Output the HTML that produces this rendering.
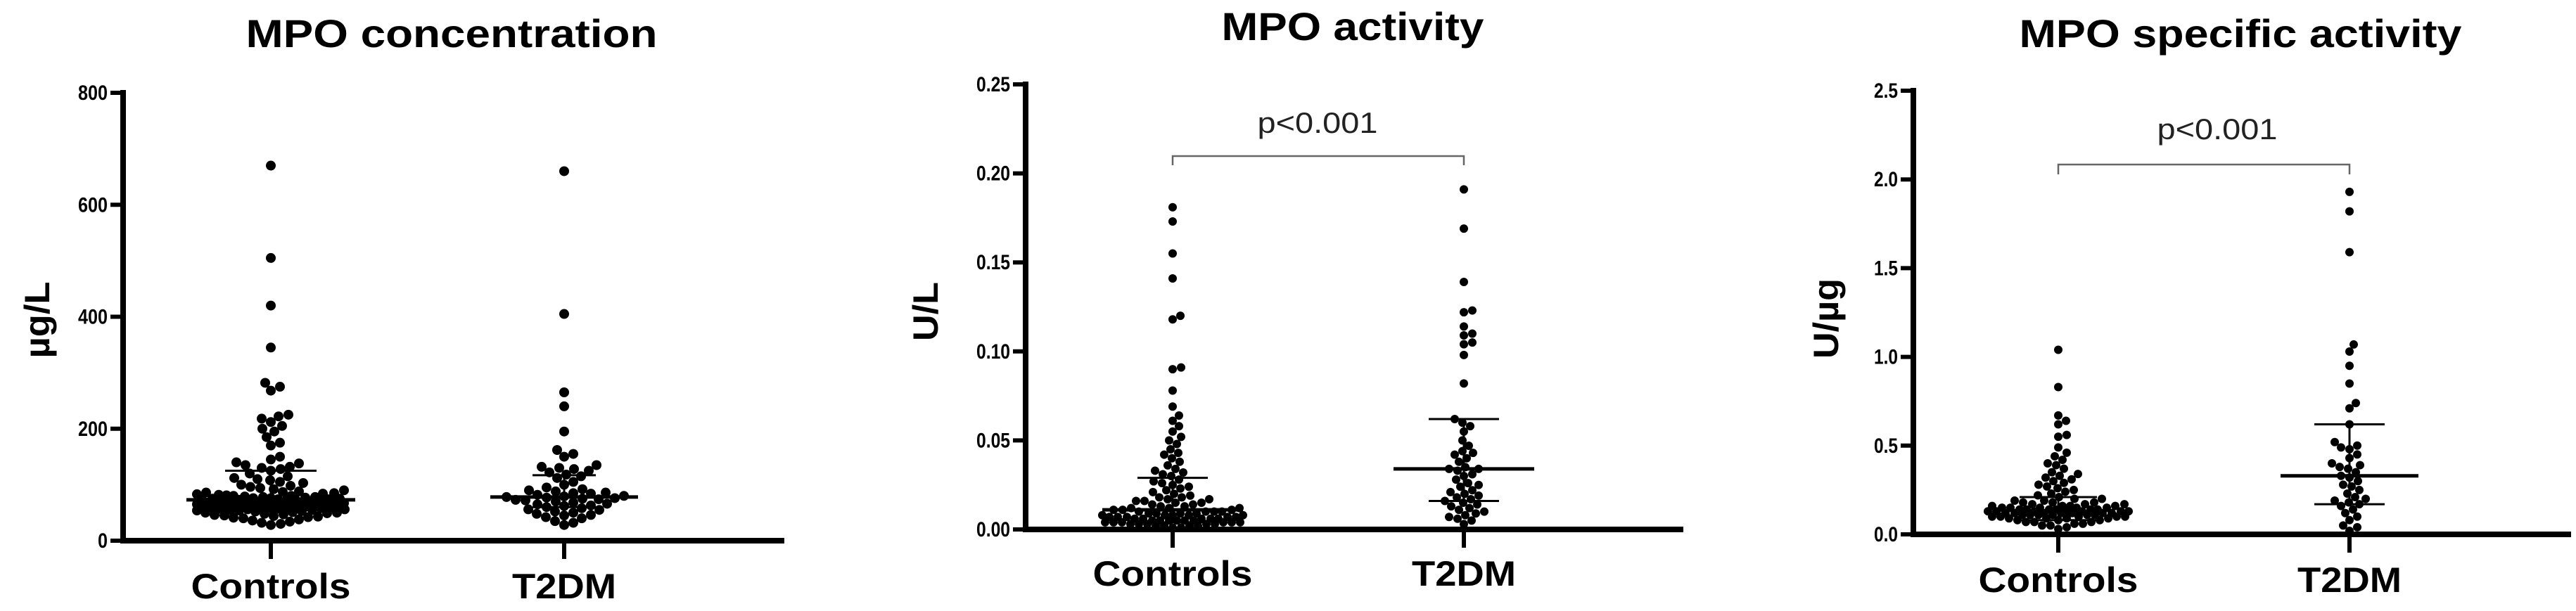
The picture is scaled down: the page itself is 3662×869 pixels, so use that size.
<!DOCTYPE html>
<html><head><meta charset="utf-8"><style>
html,body{margin:0;padding:0;background:#fff;}
svg{display:block;font-family:"Liberation Sans",sans-serif;}
</style></head><body>
<svg id="fig" width="3662" height="869" viewBox="0 0 3662 869" xmlns="http://www.w3.org/2000/svg"></svg>
<script>
const categories = ["Controls","T2DM"];
// Panel 1: MPO concentration (µg/L)
const concControls = [670,505,420,345,282,275,268,225,222,218,212,205,200,195,185,175,170,150,145,140,138,135,132,130,128,125,120,115,112,110,108,105,103,100,98,96,94,92,90,88,87,86,85,84,83,82,81,80,80,79,78,78,77,76,76,75,75,74,74,73,73,72,72,71,71,70,70,70,69,69,68,68,67,67,66,66,65,65,65,64,64,63,63,62,62,62,61,61,60,60,60,59,59,58,58,57,57,56,56,55,55,54,54,53,52,51,50,50,49,48,47,46,45,44,43,42,41,40,38,36,34,32,30,28];
const concT2DM = [660,405,265,240,195,162,155,150,135,132,130,128,125,122,118,115,112,105,100,95,92,90,88,86,85,84,82,80,79,78,77,76,75,74,73,72,70,68,66,65,63,62,60,58,56,55,52,50,48,46,45,42,40,35,32,28];
const concStats = [[73,60,125],[78,60,117]]; // median, q1, q3
const concTicks = ["0","200","400","600","800"];
// Panel 2: MPO activity (U/L)
const actControls = [0.181,0.173,0.155,0.141,0.12,0.118,0.091,0.09,0.078,0.069,0.064,0.061,0.058,0.055,0.052,0.05,0.048,0.045,0.043,0.042,0.04,0.038,0.036,0.034,0.033,0.032,0.031,0.03,0.028,0.027,0.026,0.025,0.024,0.023,0.022,0.021,0.02,0.019,0.018,0.018,0.017,0.017,0.016,0.016,0.015,0.015,0.014,0.014,0.013,0.013,0.012,0.012,0.012,0.011,0.011,0.011,0.010,0.010,0.010,0.010,0.009,0.009,0.009,0.009,0.008,0.008,0.008,0.008,0.008,0.007,0.007,0.007,0.007,0.007,0.006,0.006,0.006,0.006,0.006,0.005,0.005,0.005,0.005,0.005,0.005,0.004,0.004,0.004,0.004,0.004,0.004,0.003,0.003,0.003,0.003,0.003,0.002,0.002,0.002,0.002,0.001,0.001];
const actT2DM = [0.191,0.169,0.139,0.123,0.122,0.114,0.11,0.109,0.105,0.104,0.098,0.082,0.062,0.06,0.058,0.055,0.05,0.047,0.044,0.043,0.042,0.04,0.038,0.035,0.034,0.034,0.033,0.031,0.03,0.028,0.026,0.025,0.024,0.022,0.021,0.02,0.019,0.018,0.017,0.016,0.015,0.014,0.013,0.012,0.011,0.01,0.009,0.008,0.007,0.006,0.005,0.003];
const actStats = [[0.011,0.004,0.029],[0.034,0.016,0.062]];
const actTicks = ["0.00","0.05","0.10","0.15","0.20","0.25"];
// Panel 3: MPO specific activity (U/µg)
const spControls = [1.04,0.83,0.67,0.64,0.62,0.56,0.55,0.49,0.46,0.44,0.42,0.4,0.39,0.37,0.35,0.34,0.33,0.32,0.31,0.3,0.29,0.28,0.27,0.26,0.25,0.24,0.23,0.22,0.21,0.2,0.2,0.19,0.19,0.18,0.18,0.18,0.17,0.17,0.17,0.16,0.16,0.16,0.16,0.15,0.15,0.15,0.15,0.15,0.14,0.14,0.14,0.14,0.14,0.14,0.13,0.13,0.13,0.13,0.13,0.13,0.13,0.12,0.12,0.12,0.12,0.12,0.12,0.12,0.11,0.11,0.11,0.11,0.11,0.11,0.1,0.1,0.1,0.1,0.1,0.09,0.09,0.09,0.09,0.08,0.08,0.08,0.07,0.07,0.07,0.06,0.06,0.05,0.05,0.04,0.03];
const spT2DM = [1.93,1.82,1.59,1.07,1.03,0.95,0.85,0.74,0.71,0.62,0.52,0.5,0.49,0.48,0.45,0.43,0.4,0.39,0.38,0.37,0.35,0.33,0.32,0.3,0.28,0.27,0.25,0.23,0.21,0.2,0.19,0.18,0.17,0.16,0.14,0.12,0.1,0.08,0.05,0.04,0.02];
const spStats = [[0.13,0.08,0.21],[0.33,0.17,0.62]];
const spTicks = ["0.0","0.5","1.0","1.5","2.0","2.5"];

const NS="http://www.w3.org/2000/svg";
const svg=document.getElementById('fig');
function mk(tag,attrs,parent){const e=document.createElementNS(NS,tag);for(const k in attrs)e.setAttribute(k,attrs[k]);(parent||svg).appendChild(e);return e;}

const panels=[
 {title:"MPO concentration",tW:585,tx:642,ty:67,ytitle:"µg/L",ytW:109,ytx:70,yty:455,
  ax:175,yTop:132,y0:769,xEnd:1115,cx:[385,802],max:800,ticks:concTicks,
  data:[concControls,concT2DM],stats:concStats,r:7,half:[105,95],p:null,medW:[120,105],qW:[65,45]},
 {title:"MPO activity",tW:373,tx:1923,ty:57,ytitle:"U/L",ytW:84,ytx:1333,yty:443,
  ax:1458,yTop:120,y0:753,xEnd:2393,cx:[1667,2081],max:0.25,ticks:actTicks,
  data:[actControls,actT2DM],stats:actStats,r:6,half:[100,85],p:{x:1873,y:189,by:222,bd:235},medW:[100,100],qW:[50,50]},
 {title:"MPO specific activity",tW:629,tx:3185,ty:67,ytitle:"U/µg",ytW:114,ytx:2613,yty:453,
  ax:2720,yTop:129,y0:760,xEnd:3655,cx:[2926,3340],max:2.5,ticks:spTicks,
  data:[spControls,spT2DM],stats:spStats,r:6,half:[100,80],p:{x:3152,y:198,by:234,bd:248},medW:[55,98],qW:[55,50]}
];

panels.forEach((P,pi)=>{
 const g=mk('g',{});
 
 
 const yS=v=>P.y0-(v/P.max)*(P.y0-P.yTop);
 const t=mk('text',{x:P.tx,y:P.ty,'text-anchor':'middle','font-size':56,'font-weight':'bold',textLength:P.tW,lengthAdjust:'spacingAndGlyphs'},g);
 t.textContent=P.title;
 
 
 const yt=mk('text',{x:0,y:0,'text-anchor':'middle','font-size':50,'font-weight':'bold',textLength:P.ytW,lengthAdjust:'spacingAndGlyphs',transform:`translate(${P.ytx},${P.yty}) rotate(-90)`},g);
 yt.textContent=P.ytitle;
 
 
 // axes
 const ya=mk('line',{x1:P.ax,y1:P.yTop-4,x2:P.ax,y2:P.y0+4,stroke:'#000','stroke-width':8},g);
 
 
 const xa=mk('line',{x1:P.ax-4,y1:P.y0,x2:P.xEnd,y2:P.y0,stroke:'#000','stroke-width':8},g);
 
 
 P.ticks.forEach((lab,i)=>{
  const v=i*P.max/(P.ticks.length-1);const y=yS(v);
  mk('line',{x1:P.ax-18,y1:y,x2:P.ax,y2:y,stroke:'#000','stroke-width':6},g);
  const tl=mk('text',{x:P.ax-22,y:y+10,'text-anchor':'end','font-size':30,'font-weight':'bold',textLength:lab.replace('.','').length*14+(lab.includes('.')?6:0),lengthAdjust:'spacingAndGlyphs'},g);
  tl.textContent=lab;
  
  
 });
 categories.forEach((c,ci)=>{
  const x=P.cx[ci];
  mk('line',{x1:x,y1:P.y0,x2:x,y2:P.y0+26,stroke:'#000','stroke-width':6},g);
  const cl=mk('text',{x:x,y:P.y0+(pi===1?80:82),'text-anchor':'middle','font-size':50,'font-weight':'bold',textLength:ci===0?227:148,lengthAdjust:'spacingAndGlyphs'},g);
  cl.textContent=c;
  
  
  // beeswarm
  const vals=P.data[ci].slice().sort((a,b)=>a-b);
  const placed=[];const d=2*P.r*0.95;const H=P.half[ci];
  vals.forEach(v=>{
   const y=yS(v);let best=null,bestD=-1;
   for(let k=0;k<=H;k+=1){
    for(const s of (k===0?[0]:[k,-k])){
     let md=1e9;for(const q of placed){const dd=Math.hypot(q[0]-s,q[1]-y);if(dd<md)md=dd;}
     if(md>=d){best=s;bestD=1e9;break;}
     if(md>bestD){bestD=md;best=s;}
    }
    if(bestD===1e9)break;
   }
   placed.push([best,y]);
   const dot=mk('circle',{cx:x+best,cy:y,r:P.r,fill:'#000'},g);
   
   
  });
  const st=P.stats[ci];
  const ev=mk('line',{x1:x,y1:yS(st[1]),x2:x,y2:yS(st[2]),stroke:'#000','stroke-width':3},g);
  
  
  const md=mk('line',{x1:x-P.medW[ci],y1:yS(st[0]),x2:x+P.medW[ci],y2:yS(st[0]),stroke:'#000','stroke-width':5},g);
  
  
  [st[1],st[2]].forEach(q=>{
   const ql=mk('line',{x1:x-P.qW[ci],y1:yS(q),x2:x+P.qW[ci],y2:yS(q),stroke:'#000','stroke-width':3},g);
   
   
  });
 });
 if(P.p){
  const br=mk('path',{d:`M${P.cx[0]},${P.p.bd} V${P.p.by} H${P.cx[1]} V${P.p.bd}`,fill:'none',stroke:'#666','stroke-width':2.5},g);
  
  
  const pt=mk('text',{x:P.p.x,y:P.p.y,'text-anchor':'middle','font-size':42,fill:'#222',textLength:171,lengthAdjust:'spacingAndGlyphs'},g);
  pt.textContent='p<0.001';
  
  
 }
});
</script>
</body></html>
